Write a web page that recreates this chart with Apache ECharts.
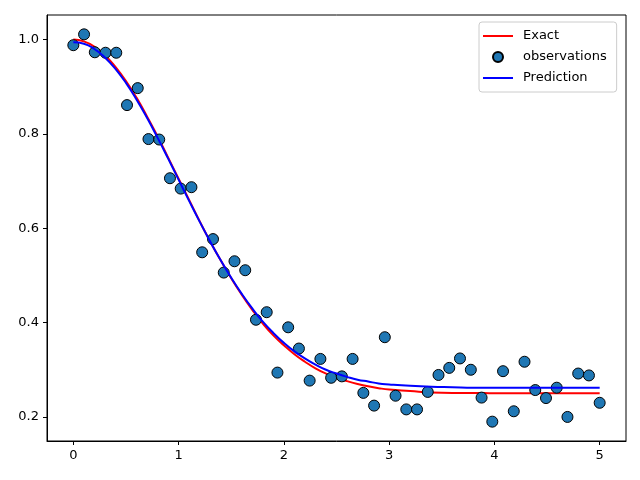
<!DOCTYPE html>
<html><head><meta charset="utf-8">
<script src="https://cdn.jsdelivr.net/npm/echarts@6/dist/echarts.min.js"></script>
<style>html,body{margin:0;padding:0;background:#fff}#c{width:640px;height:480px}</style>
</head><body><div id="c"></div>
<script>
var curveX = [0,0.1,0.2,0.3,0.4,0.5,0.6,0.7,0.8,0.9,1.0,1.1,1.2,1.3,1.4,1.5,1.6,1.7,1.8,1.9,2.0,2.1,2.2,2.3,2.4,2.5,2.6,2.7,2.8,2.9,3.0,3.2,3.4,3.6,3.8,4.0,4.5,5.0];
var exactY = [1.000,0.996,0.985,0.967,0.942,0.912,0.877,0.837,0.795,0.750,0.705,0.660,0.615,0.572,0.532,0.494,0.459,0.427,0.398,0.373,0.352,0.333,0.317,0.303,0.292,0.283,0.276,0.270,0.265,0.261,0.258,0.255,0.252,0.251,0.251,0.250,0.250,0.250];
var predY = [0.994,0.991,0.980,0.962,0.938,0.908,0.873,0.834,0.792,0.748,0.703,0.658,0.614,0.572,0.532,0.495,0.461,0.430,0.402,0.378,0.357,0.339,0.324,0.311,0.300,0.292,0.285,0.279,0.275,0.271,0.269,0.266,0.264,0.263,0.262,0.262,0.262,0.262];
var obsX = [0,0.102,0.204,0.306,0.408,0.510,0.612,0.714,0.816,0.918,1.020,1.122,1.224,1.327,1.429,1.531,1.633,1.735,1.837,1.939,2.041,2.143,2.245,2.347,2.449,2.551,2.653,2.755,2.857,2.959,3.061,3.163,3.265,3.367,3.469,3.571,3.673,3.776,3.878,3.980,4.082,4.184,4.286,4.388,4.490,4.592,4.694,4.796,4.898,5.000];
var obsY = [0.988,1.011,0.973,0.972,0.972,0.861,0.897,0.789,0.788,0.706,0.684,0.687,0.549,0.577,0.506,0.530,0.511,0.406,0.422,0.294,0.390,0.345,0.277,0.323,0.283,0.286,0.323,0.251,0.224,0.369,0.245,0.216,0.216,0.253,0.289,0.304,0.324,0.300,0.241,0.190,0.297,0.212,0.317,0.257,0.240,0.262,0.200,0.292,0.288,0.230];
var xTicks = [0,1,2,3,4,5];
var yTicks = [0.2,0.4,0.6,0.8,1.0];

function zip(a,b){return a.map(function(v,i){return [v,b[i]];});}
var font = 'DejaVu Sans';
var lineIcon = 'path://M0,0 L30,0 L30,2 L0,2 Z';
var chart = echarts.init(document.getElementById('c'), null, {renderer:'canvas'});
chart.setOption({
  animation:false,
  backgroundColor:'#fff',
  textStyle:{fontFamily:font},
  grid:{left:47,right:14,top:15,bottom:39,show:true,borderColor:'#000',borderWidth:1,containLabel:false},
  xAxis:{type:'value',min:-0.25,max:5.25,
    axisLine:{show:true,onZero:false,lineStyle:{color:'#000',width:1}},
    axisTick:{show:true,length:4,lineStyle:{color:'#000'},customValues:xTicks},
    axisLabel:{color:'#000',fontSize:13,fontFamily:font,margin:8,customValues:xTicks,formatter:function(v){return String(v);}},
    splitLine:{show:false}},
  yAxis:{type:'value',min:0.149,max:1.052,
    axisLine:{show:true,onZero:false,lineStyle:{color:'#000',width:1}},
    axisTick:{show:true,length:4,lineStyle:{color:'#000'},customValues:yTicks},
    axisLabel:{color:'#000',fontSize:13,fontFamily:font,margin:8,customValues:yTicks,formatter:function(v){return v.toFixed(1);}},
    splitLine:{show:false}},
  legend:{orient:'vertical',left:479,top:22,padding:[6,10,6,4],itemGap:5,itemWidth:30,itemHeight:10,
    backgroundColor:'rgba(255,255,255,0.8)',borderColor:'#ccc',borderWidth:1,borderRadius:3,
    textStyle:{fontSize:13,fontFamily:font,color:'#000',lineHeight:16,padding:[0,0,0,5]},
    data:[{name:'Exact',icon:lineIcon},{name:'observations',icon:'circle'},{name:'Prediction',icon:lineIcon}]},
  series:[
    {name:'Exact',type:'line',data:zip(curveX,exactY),smooth:true,symbol:'none',showSymbol:false,
      lineStyle:{color:'#ff0000',width:2},itemStyle:{color:'#ff0000'},z:2},
    {name:'observations',type:'scatter',data:zip(obsX,obsY),symbol:'circle',symbolSize:11,
      itemStyle:{color:'#1f77b4',borderColor:'#000',borderWidth:1,opacity:1},z:3},
    {name:'Prediction',type:'line',data:zip(curveX,predY),smooth:true,symbol:'none',showSymbol:false,
      lineStyle:{color:'#0000ff',width:2},itemStyle:{color:'#0000ff'},z:4}
  ]
});
</script></body></html>
